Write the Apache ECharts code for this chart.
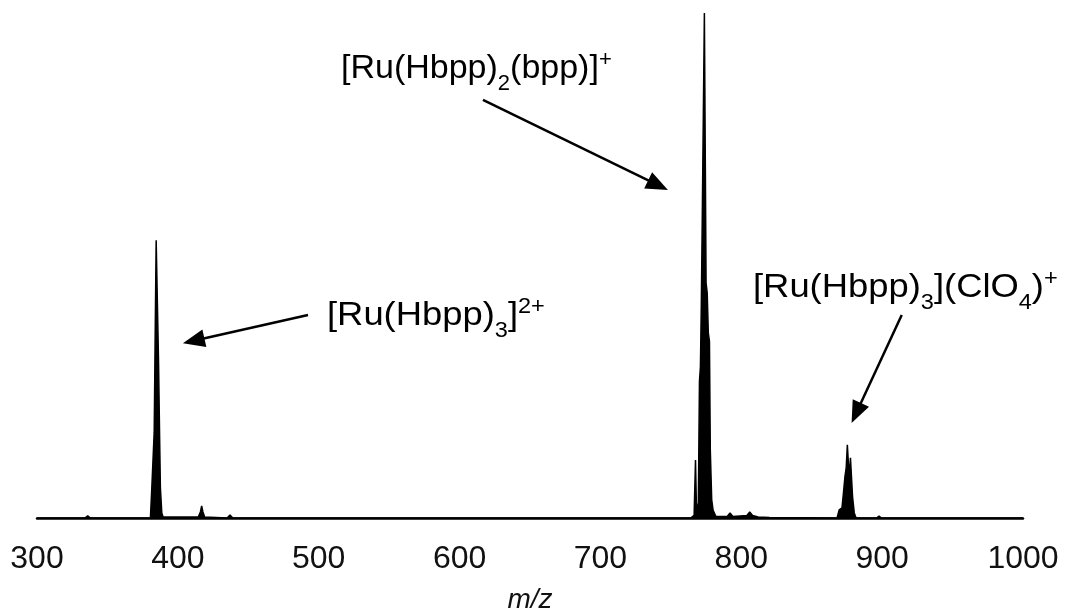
<!DOCTYPE html>
<html>
<head>
<meta charset="utf-8">
<script src="https://cdn.jsdelivr.net/npm/echarts@6/dist/echarts.min.js"></script>
<style>html,body{margin:0;padding:0;background:#fff;}#c{width:1080px;height:616px;}</style>
</head>
<body>
<div id="c"></div>
<script>
// m/z values and relative intensities
const mz = [300, 334, 336, 338, 360, 380.5, 381.5, 382.8, 383.2, 383.7, 384.6, 385.2, 386.3, 387.0, 387.6, 388.6, 389.5,
  414.5, 416, 416.9, 417.8, 419, 435, 437, 439,
  764, 766.5, 767.5, 768.2, 769.5, 770.3, 771.0, 771.6, 772.4, 773.8, 774.3, 775.0, 775.8, 776.6, 777.4, 778.0, 779.0, 780, 782,
  790, 792, 794, 804, 806, 808, 812, 820,
  868, 869.5, 871.5, 872.4, 873.6, 874.5, 875.3, 875.8, 876.6, 877.5, 878.2, 879, 880.2, 881.5,
  896, 897.8, 899.5, 1000];
const intensity = [0, 0, 0.4, 0, 0, 0, 5.9, 6, 17, 30.7, 55, 55, 30.7, 17, 6, 1, 0.2,
  0.2, 1.2, 2.4, 1.2, 0.2, 0, 0.6, 0,
  0, 0.5, 11.5, 1.5, 3, 27, 30, 41.8, 62, 100, 100, 46.5, 44.6, 36.6, 35, 13.5, 3.6, 1.5, 0.3,
  0.3, 1.0, 0.3, 0.5, 1.2, 0.5, 0.2, 0.1,
  0, 1.6, 2, 4.6, 8.2, 10, 14.5, 14.5, 8, 11.9, 11.9, 4.2, 1, 0,
  0, 0.4, 0, 0];
const xTicks = [300, 400, 500, 600, 700, 800, 900, 1000];
// annotation arrows: [tail m/z, tail intensity, head m/z, head intensity]
const arrows = [
  [492.4, 40.2, 411.2, 35.1],
  [616.6, 82.8, 740.9, 65.9],
  [913.9, 40.2, 881.6, 20.8]
];

const chart = echarts.init(document.getElementById('c'), null, {renderer: 'canvas'});
const FONT = 'Liberation Sans, Arial, sans-serif';
const rich = {
  n: {fontSize: 34, fontFamily: FONT, color: '#111', lineHeight: 40},
  s: {fontSize: 22, fontFamily: FONT, color: '#111', lineHeight: 22, verticalAlign: 'bottom', padding: [0, 0, -6, 0]},
  p: {fontSize: 22, fontFamily: FONT, color: '#111', lineHeight: 22, verticalAlign: 'top', padding: [0, 0, 0, 0]}
};
chart.setOption({
  animation: false,
  backgroundColor: '#fff',
  grid: {left: 37, right: 57, top: 13, bottom: 98, outerBoundsMode: 'none', containLabel: false},
  xAxis: {
    type: 'value', min: 300, max: 1000, interval: 100,
    name: 'm/z', nameLocation: 'middle', nameGap: 68,
    nameTextStyle: {fontSize: 28, fontStyle: 'italic', fontFamily: FONT, color: '#111'},
    axisLine: {show: true, onZero: false, lineStyle: {color: '#000', width: 2.5}},
    axisTick: {show: false},
    splitLine: {show: false},
    axisLabel: {fontSize: 32, fontFamily: FONT, color: '#111', margin: 25,
      formatter: v => xTicks.includes(v) ? String(v) : ''}
  },
  yAxis: {type: 'value', min: 0, max: 100, show: false},
  series: [{
    type: 'line',
    data: mz.map((m, i) => [m, intensity[i]]),
    symbol: 'none',
    lineStyle: {color: '#000', width: 1.5},
    areaStyle: {color: '#000', opacity: 1},
    markLine: {
      silent: true,
      symbol: ['none', 'triangle'],
      symbolSize: [18, 22],
      label: {show: false},
      lineStyle: {color: '#000', width: 2.5, type: 'solid'},
      data: arrows.map(a => [{coord: [a[0], a[1]]}, {coord: [a[2], a[3]]}])
    }
  }],
  graphic: [
    {type: 'text', left: 341, top: 49, style: {text: '{n|[Ru(Hbpp)}{s|2}{n|(bpp)]}{p|+}', rich: rich}},
    {type: 'text', left: 327, top: 296, scaleX: 1.07, style: {text: '{n|[Ru(Hbpp)}{s|3}{n|]}{p|2+}', rich: rich}},
    {type: 'text', left: 753, top: 268, scaleX: 1.07, style: {text: '{n|[Ru(Hbpp)}{s|3}{n|](ClO}{s|4}{n|)}{p|+}', rich: rich}}
  ]
});
</script>
</body>
</html>
